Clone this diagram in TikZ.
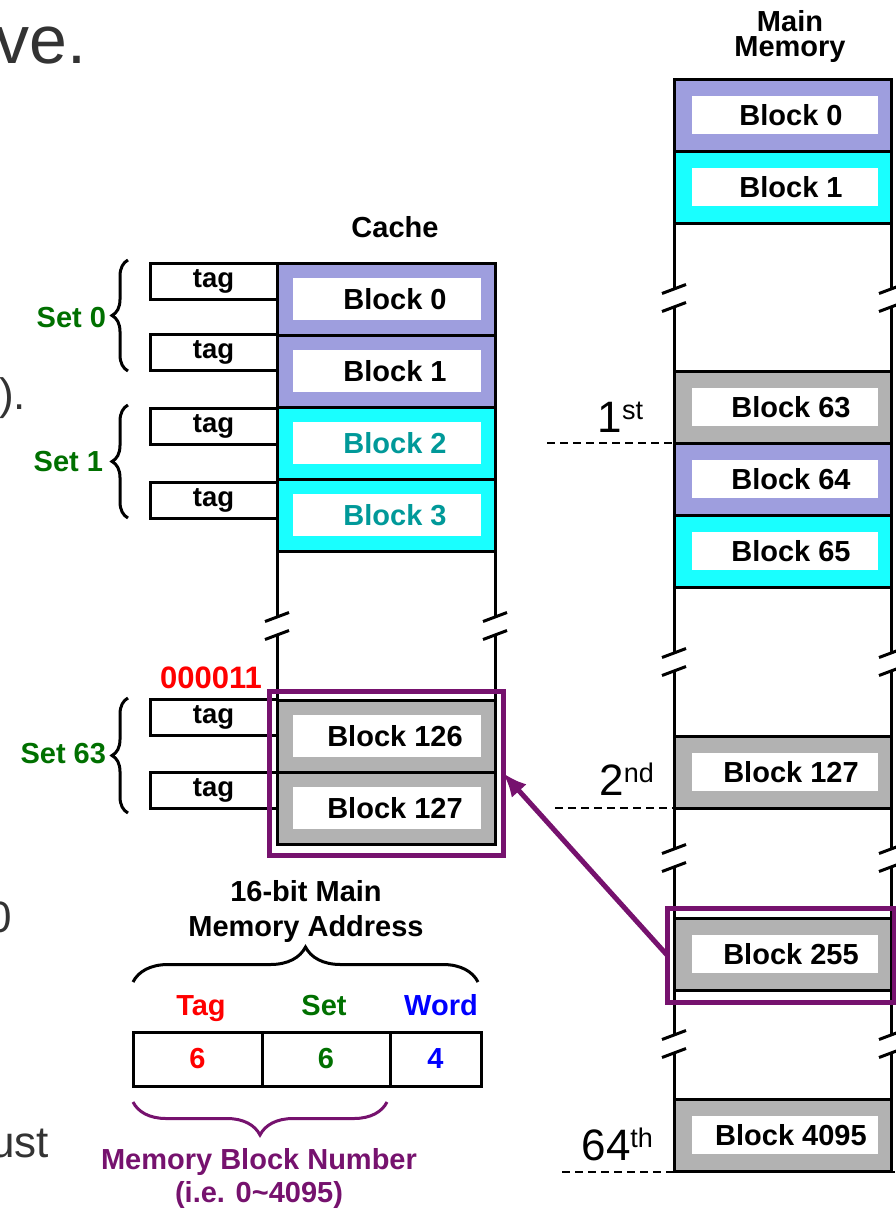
\documentclass[tikz,border=0pt]{standalone}
\usepackage{fontspec}
\setmainfont{Liberation Sans}
\usetikzlibrary{decorations.pathreplacing,arrows.meta}
\definecolor{lav}{RGB}{158,158,222}
\definecolor{cyn}{RGB}{25,255,255}
\definecolor{gry}{RGB}{178,178,178}
\definecolor{purp}{RGB}{118,18,110}
\definecolor{grn}{RGB}{0,112,0}
\definecolor{tealT}{RGB}{0,153,153}
\definecolor{bodygray}{RGB}{51,51,51}
\newcommand\cblock[5]{%
  \node[cblk, fill=#3] (#1) at (386,#2) {};
  \node[cin] (#1w) at (387,#2) {};
  \node[btxt, text=#5] (#1t) at (395,#2) {#4};}
\newcommand\mblock[4]{%
  \node[mblk, fill=#3] (#1) at (782.5,#2) {};
  \node[minr] (#1w) at (785,#2) {};
  \node[btxt] (#1t) at (791,#2) {#4};}
\newcommand\brkline[4]{%
  \draw[colline] (#1,#2) -- (#1,#4-9) (#1,#4+9) -- (#1,#3);
  \draw[colline] (#1-12,#4-4.5) -- (#1+12,#4-13.5) (#1-12,#4+13.5) -- (#1+12,#4+4.5);}
\begin{document}
\begin{tikzpicture}[x=1pt,y=-1pt,
  every node/.style={inner sep=0pt, outer sep=0pt},
  blk/.style={draw=black, line width=3pt, minimum height=72pt},
  cblk/.style={blk, minimum width=218pt},
  mblk/.style={blk, minimum width=217pt},
  cin/.style={fill=white, minimum width=188pt, minimum height=42pt},
  minr/.style={fill=white, minimum width=186pt, minimum height=38pt},
  btxt/.style={font=\fontsize{29}{31}\selectfont\bfseries},
  tagbox/.style={draw=black, line width=3pt, minimum width=127pt, minimum height=36pt, font=\fontsize{27.5}{30}\selectfont\bfseries},
  colline/.style={line width=3pt},
  dsh/.style={line width=1.5pt, dash pattern=on 8pt off 5pt},
  hl/.style={draw=purp, line width=5pt},
  brc/.style={decorate, line width=3pt, decoration={brace, amplitude=#1}},
  body/.style={text=bodygray, font=\fontsize{44}{48}\selectfont},
  ord/.style={font=\fontsize{44}{48}\selectfont}
]
\useasboundingbox (0,0) rectangle (896,1210);

% slide body fragments
\node[anchor=base east, text=bodygray, font=\fontsize{68}{70}\selectfont] (title) at (86,63) {ve.};
\node[body, anchor=base east] (b1) at (26,409) {).};
\node[body, anchor=base east] (b2) at (12,932) {0};
\node[body, anchor=base east] (b3) at (49,1157) {ust};

% ---------------- Cache ----------------
\node[btxt] (cachelbl) at (395,227) {Cache};
\cblock{c0}{299}{lav}{Block 0}{black}
\cblock{c1}{371}{lav}{Block 1}{black}
\cblock{c2}{443}{cyn}{Block 2}{tealT}
\cblock{c3}{515}{cyn}{Block 3}{tealT}
\cblock{c126}{736}{gry}{Block 126}{black}
\cblock{c127}{808}{gry}{Block 127}{black}
\brkline{277}{551}{700}{626}
\brkline{495}{551}{700}{626}

% tags
\node[tagbox] (t0) at (213.5,281) {tag};
\node[tagbox] (t1) at (213.5,352) {tag};
\node[tagbox] (t2) at (213.5,426) {tag};
\node[tagbox] (t3) at (213.5,500) {tag};
\node[tagbox] (t126) at (213.5,717) {tag};
\node[tagbox] (t127) at (213.5,790) {tag};

% set braces
\draw[brc=16pt] (128,371) -- (128,260);
\draw[brc=16pt] (128,518) -- (128,405);
\draw[brc=16pt] (128,813) -- (128,698);
\node[btxt, text=grn, anchor=east] (s0) at (106,318) {Set 0};
\node[btxt, text=grn, anchor=east] (s1) at (103,462) {Set 1};
\node[btxt, text=grn, anchor=east] (s63) at (106,754) {Set 63};
\node[btxt, text=red, font=\fontsize{31}{32}\selectfont\bfseries] (bits) at (211,678) {000011};

% ---------------- Main memory ----------------
\node[btxt, align=center, anchor=north, font=\fontsize{29}{25}\selectfont\bfseries] (mmlbl) at (790,10) {Main\\Memory};
\mblock{m0}{115}{lav}{Block 0}
\mblock{m1}{187}{cyn}{Block 1}
\mblock{m63}{407}{gry}{Block 63}
\mblock{m64}{479}{lav}{Block 64}
\mblock{m65}{551}{cyn}{Block 65}
\mblock{m127}{772}{gry}{Block 127}
\mblock{m255}{954}{gry}{Block 255}
\mblock{m4095}{1135}{gry}{Block 4095}
\brkline{674}{223}{371}{298}
\brkline{891}{223}{371}{298}
\brkline{674}{587}{736}{662}
\brkline{891}{587}{736}{662}
\brkline{674}{808}{918}{858}
\brkline{891}{808}{918}{858}
\brkline{674}{990}{1099}{1044}
\brkline{891}{990}{1099}{1044}

% ordinal markers
\coordinate (d1) at (547,443);
\coordinate (d2) at (555,808);
\coordinate (d3) at (562,1172);
\coordinate (d3e) at (896,1172);
\draw[dsh] (d1) -- (m63.south west);
\draw[dsh] (d2) -- (m127.south west);
\draw[dsh] (d3) -- (d3e);
\node[ord, anchor=base east] (o1) at (643,432) {1\raisebox{13pt}{\fontsize{27}{30}\selectfont st}};
\node[ord, anchor=base east] (o2) at (654,795) {2\raisebox{13pt}{\fontsize{27}{30}\selectfont nd}};
\node[ord, anchor=base east] (o3) at (653,1160) {64\raisebox{13pt}{\fontsize{27}{30}\selectfont th}};

% highlights and arrow
\node[hl, minimum width=234pt, minimum height=164pt] (hl1) at (386,773) {};
\node[hl, minimum width=227pt, minimum height=94pt] (hl2) at (780.5,955) {};
\draw[purp, line width=5pt, -{Latex[length=24pt,width=20pt]}] (hl2.west) -- (hl1.east);

% ---------------- Address format ----------------
\node[btxt, align=center, anchor=north, font=\fontsize{29}{35}\selectfont\bfseries] (addrlbl) at (306,880) {16-bit Main\\Memory Address};
\draw[brc=35pt] (133,982) -- (478,982);
\node[btxt, text=red, anchor=base] (ftag) at (201,1015) {Tag};
\node[btxt, text=grn, anchor=base] (fset) at (324,1015) {Set};
\node[btxt, text=blue, anchor=base] (fword) at (441,1015) {Word};
\node[draw=black, line width=3pt, minimum width=129pt, minimum height=54pt, btxt, text=red] (a1) at (197.5,1059) {6};
\node[draw=black, line width=3pt, minimum width=128pt, minimum height=54pt, btxt, text=grn] (a2) at (326,1059) {6};
\node[draw=black, line width=3pt, minimum width=91pt, minimum height=54pt, btxt, text=blue] (a3) at (435.5,1059) {4};
\draw[brc=33pt, purp] (387,1102) -- (133,1102);
\node[btxt, text=purp, align=center, anchor=north, font=\fontsize{29}{33}\selectfont\bfseries] (mbn) at (259,1148) {Memory Block Number\\(i.e. 0\textasciitilde 4095)};
\end{tikzpicture}
\end{document}
